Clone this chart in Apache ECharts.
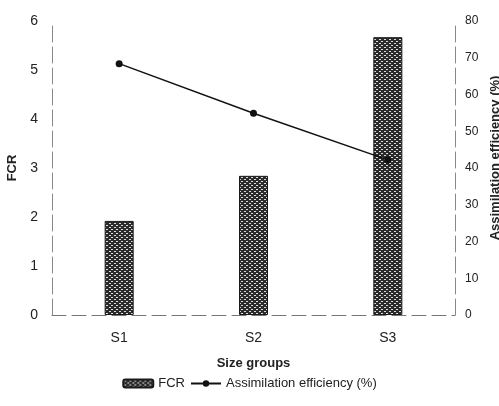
<!DOCTYPE html>
<html>
<head>
<meta charset="utf-8">
<script src="https://cdn.jsdelivr.net/npm/echarts@6/dist/echarts.min.js"></script>
<style>
html,body{margin:0;padding:0;background:#fff;}
#c{width:499px;height:406px;}
</style>
</head>
<body>
<div id="c"></div>
<script>
var categories = ['S1', 'S2', 'S3'];
var fcrValues = [1.92, 2.84, 5.67];
var assimValues = [68.4, 54.9, 42.2];
var leftTicks = [0, 1, 2, 3, 4, 5, 6];
var rightTicks = [0, 10, 20, 30, 40, 50, 60, 70, 80];

function makePattern() {
  var cv = document.createElement('canvas');
  cv.width = 5; cv.height = 4;
  var ctx = cv.getContext('2d');
  ctx.fillStyle = '#2b2b2b';
  ctx.fillRect(0, 0, 5, 4);
  ctx.fillStyle = '#dcdcdc';
  ctx.fillRect(1, 1, 2, 1);
  ctx.fillRect(4, 3, 1, 1);
  ctx.fillRect(0, 3, 1, 1);
  return cv;
}
var pattern = { image: makePattern(), repeat: 'repeat' };

var font = 'Liberation Sans, Arial, sans-serif';
var chart = echarts.init(document.getElementById('c'));
chart.setOption({
  animation: false,
  backgroundColor: '#fff',
  textStyle: { fontFamily: font, color: '#222' },
  grid: { left: 52, right: 44, top: 21, bottom: 91, outerBoundsMode: 'none', containLabel: false },
  legend: {
    bottom: 11,
    left: 'center',
    itemWidth: 30,
    itemHeight: 8,
    itemGap: 5,
    textStyle: { fontSize: 13, color: '#222', fontFamily: font },
    data: [
      { name: 'FCR' },
      { name: 'Assimilation efficiency (%)' }
    ]
  },
  xAxis: {
    type: 'category',
    data: categories,
    name: 'Size groups',
    nameLocation: 'middle',
    nameGap: 42,
    nameTextStyle: { fontWeight: 'bold', fontSize: 13, color: '#222' },
    axisLine: { show: true, lineStyle: { color: '#777', width: 1, type: [14, 6] } },
    axisTick: { show: false },
    axisLabel: { fontSize: 14, color: '#222', margin: 16 }
  },
  yAxis: [
    {
      type: 'value',
      min: 0, max: 6, interval: 1,
      name: 'FCR',
      nameLocation: 'middle',
      nameGap: 29,
      nameRotate: 90,
      nameTextStyle: { fontWeight: 'bold', fontSize: 13, color: '#222' },
      axisLine: { show: true, lineStyle: { color: '#888', width: 1, type: [16, 5] } },
      axisTick: { show: false },
      splitLine: { show: false },
      axisLabel: { fontSize: 14, color: '#222', margin: 14 }
    },
    {
      type: 'value',
      min: 0, max: 80, interval: 10,
      name: 'Assimilation efficiency (%)',
      nameLocation: 'middle',
      nameGap: 30,
      nameRotate: 90,
      nameTextStyle: { fontWeight: 'bold', fontSize: 13, color: '#222', padding: [0, 0, 0, 20] },
      position: 'right',
      axisLine: { show: true, lineStyle: { color: '#888', width: 1, type: [16, 5] } },
      axisTick: { show: false },
      splitLine: { show: false },
      axisLabel: { fontSize: 12, color: '#222', margin: 10 }
    }
  ],
  series: [
    {
      name: 'FCR',
      type: 'bar',
      yAxisIndex: 0,
      data: fcrValues,
      barWidth: 29,
      itemStyle: { color: pattern, borderColor: '#1a1a1a', borderWidth: 1 }
    },
    {
      name: 'Assimilation efficiency (%)',
      type: 'line',
      yAxisIndex: 1,
      data: assimValues,
      symbol: 'circle',
      symbolSize: 7,
      lineStyle: { color: '#111', width: 1.5 },
      itemStyle: { color: '#111' }
    }
  ]
});
</script>
</body>
</html>
